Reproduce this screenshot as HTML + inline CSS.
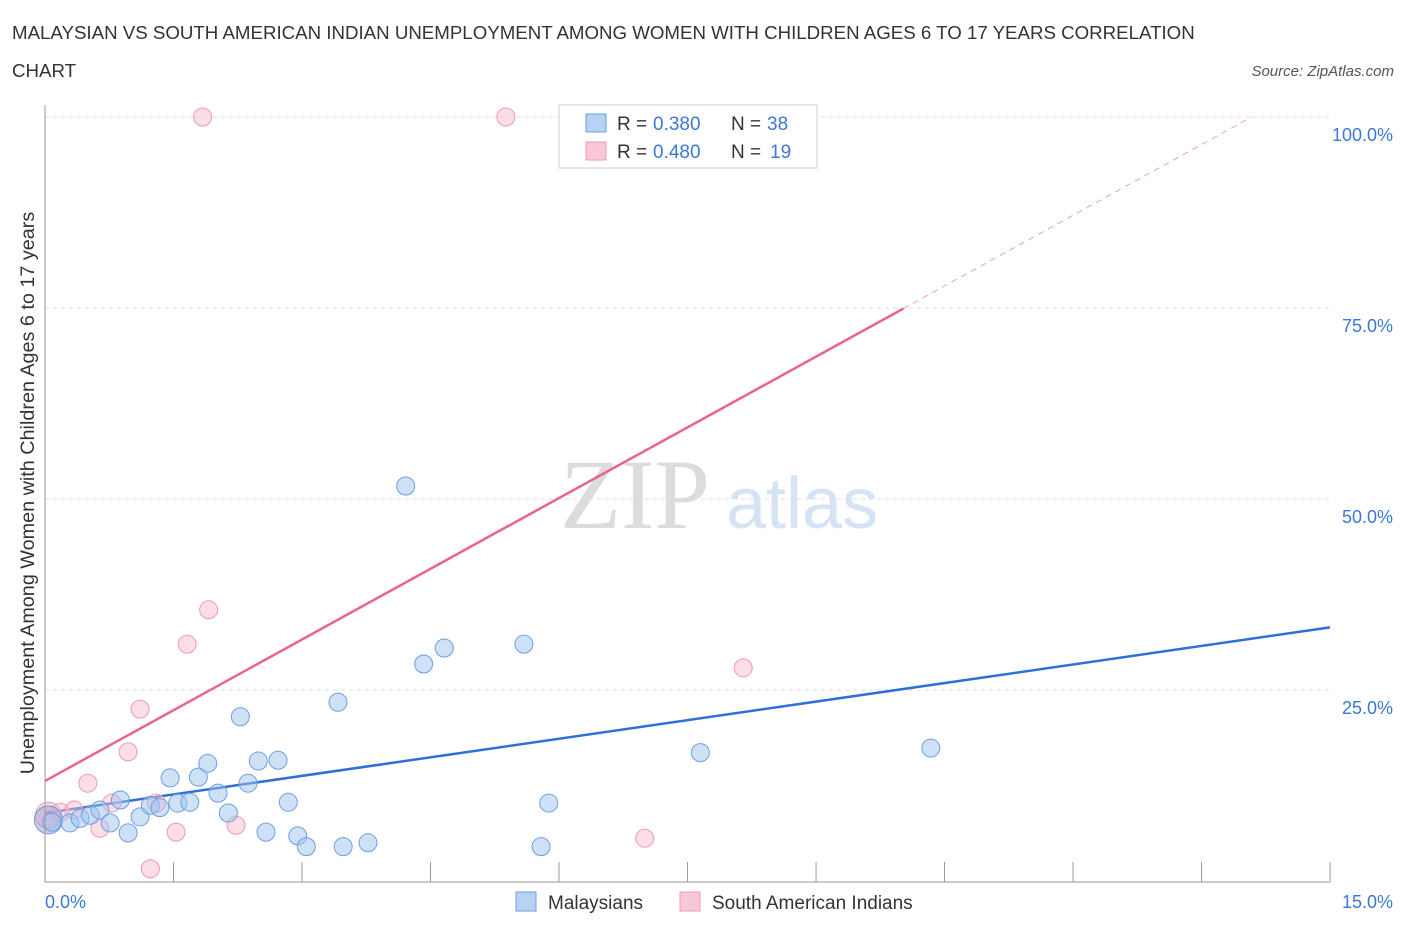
<!DOCTYPE html>
<html><head><meta charset="utf-8">
<style>
body{margin:0;background:#fff;font-family:"Liberation Sans",sans-serif;}
</style></head>
<body>
<svg id="chart" width="1406" height="930" style="font-family:'Liberation Sans',sans-serif">
<text x="12" y="39" font-size="18.7" fill="#333">MALAYSIAN VS SOUTH AMERICAN INDIAN UNEMPLOYMENT AMONG WOMEN WITH CHILDREN AGES 6 TO 17 YEARS CORRELATION</text>
<text x="12" y="77" font-size="18.7" fill="#333">CHART</text>
<text x="1394" y="76" font-size="15" fill="#555" font-style="italic" text-anchor="end">Source: ZipAtlas.com</text>
<text x="635" y="528" font-size="100" fill="#dcdcdc" style="font-family:'Liberation Serif',serif" text-anchor="middle">ZIP</text>
<text x="802" y="528" font-size="72" fill="#d5e3f5" text-anchor="middle">atlas</text>
<text transform="translate(34,493) rotate(-90)" font-size="19.8" fill="#333" text-anchor="middle">Unemployment Among Women with Children Ages 6 to 17 years</text>
<g id="grid"></g><g id="ticks"></g><g id="lines"></g><g id="pts"></g>
<line x1="45" y1="105" x2="45" y2="882" stroke="#999"/>
<line x1="45" y1="882" x2="1330" y2="882" stroke="#999"/>
<text x="45" y="908" font-size="18" fill="#3b78d8">0.0%</text>
<text x="1393" y="908" font-size="18" fill="#3b78d8" text-anchor="end">15.0%</text>
<g>
<rect x="559" y="105" width="258" height="63" fill="#fff" stroke="#ccc"/>
<rect x="586" y="114" width="20" height="18" fill="#b8d2f4" stroke="#6d9fe0"/>
<rect x="586" y="142" width="20" height="18" fill="#f9c8d8" stroke="#ee9ab4"/>
<text x="617" y="130" font-size="19" fill="#333">R =</text>
<text x="653" y="130" font-size="19" fill="#3b78d8">0.380</text>
<text x="731" y="130" font-size="19" fill="#333">N =</text>
<text x="767" y="130" font-size="19" fill="#3b78d8">38</text>
<text x="617" y="158" font-size="19" fill="#333">R =</text>
<text x="653" y="158" font-size="19" fill="#3b78d8">0.480</text>
<text x="731" y="158" font-size="19" fill="#333">N =</text>
<text x="770" y="158" font-size="19" fill="#3b78d8">19</text>
</g>
<g>
<rect x="516" y="892" width="20" height="19" fill="#b8d2f4" stroke="#6d9fe0"/>
<text x="548" y="909" font-size="19" fill="#333">Malaysians</text>
<rect x="680" y="892" width="20" height="19" fill="#f9c8d8" stroke="#ee9ab4"/>
<text x="712" y="909" font-size="19" fill="#333">South American Indians</text>
</g>
</svg>
<script>
const yTicks=[25,50,75,100];
const yTickLabels=["25.0%","50.0%","75.0%","100.0%"];
const xTicks=[0,1.5,3,4.5,6,7.5,9,10.5,12,13.5,15];
const blueX=[0.04,0.08,0.29,0.41,0.53,0.64,0.76,0.88,0.97,1.11,1.23,1.34,1.46,1.55,1.69,1.79,1.90,2.02,2.14,2.28,2.37,2.49,2.58,2.72,2.84,2.95,3.05,3.42,3.48,3.77,4.21,4.42,4.66,5.59,5.79,5.88,7.65,10.34];
const blueY=[8.0,7.7,7.6,8.2,8.6,9.3,7.6,10.6,6.3,8.4,9.9,9.6,13.5,10.2,10.3,13.6,15.4,11.5,8.9,21.5,12.8,15.7,6.4,15.8,10.3,5.9,4.5,23.4,4.5,5.0,51.7,28.4,30.5,31.0,4.5,10.2,16.8,17.4];
const pinkX=[0.04,0.18,0.34,0.50,0.64,0.78,0.97,1.11,1.23,1.30,1.53,1.66,1.84,1.91,2.23,5.38,7.00,8.15,7.61];
const pinkY=[8.6,9.0,9.3,12.8,6.9,10.2,16.9,22.5,1.6,10.2,6.4,31.0,100,35.5,7.3,100,5.6,27.9,100];
const blueTrend=[8.9,33.2];
const pinkTrend=[13.1,6.17];
const NS="http://www.w3.org/2000/svg";
const sx=v=>45+v*85.67, sy=v=>881-v*7.64;
function mk(tag,attrs,parent){const e=document.createElementNS(NS,tag);for(const k in attrs)e.setAttribute(k,attrs[k]);document.getElementById(parent).appendChild(e);return e;}
yTicks.forEach((t,i)=>{
 const g=mk('line',{x1:45,x2:1330,y1:sy(t),y2:sy(t),stroke:'#ddd','stroke-dasharray':'4,4'},'grid');
 
 
 const l=mk('text',{x:1393,y:sy(t)+24,'font-size':18,fill:'#3b78d8','text-anchor':'end'},'grid');
 l.textContent=yTickLabels[i];
 
 
});
xTicks.forEach(t=>{
 const k=mk('line',{x1:sx(t),x2:sx(t),y1:862,y2:882,stroke:'#999'},'ticks');
 
 
});
const bl=mk('line',{x1:sx(0),y1:sy(blueTrend[0]),x2:sx(15),y2:sy(blueTrend[1]),stroke:'#2f6fd6','stroke-width':2.5},'lines');


const xEnd=10.02, xTop=(100-pinkTrend[0])/pinkTrend[1];
const pl=mk('line',{x1:sx(0),y1:sy(pinkTrend[0]),x2:sx(xEnd),y2:sy(pinkTrend[0]+pinkTrend[1]*xEnd),stroke:'#e8648f','stroke-width':2.5},'lines');


const pd=mk('line',{x1:sx(xEnd),y1:sy(pinkTrend[0]+pinkTrend[1]*xEnd),x2:sx(xTop),y2:sy(100),stroke:'#eea0b8','stroke-width':1,'stroke-dasharray':'6,5'},'lines');


pinkX.forEach((x,i)=>{
 const c=mk('circle',{cx:sx(x),cy:sy(pinkY[i]),r:i==0?13:9,fill:'rgba(248,190,210,0.5)',stroke:'#ee9ab4','stroke-width':1},'pts');
 
 
});
blueX.forEach((x,i)=>{
 const c=mk('circle',{cx:sx(x),cy:sy(blueY[i]),r:i==0?14:9,fill:i==0?'rgba(170,160,210,0.55)':'rgba(160,196,240,0.5)',stroke:'#6d9fe0','stroke-width':1},'pts');
 
 
});
</script>
</body></html>
